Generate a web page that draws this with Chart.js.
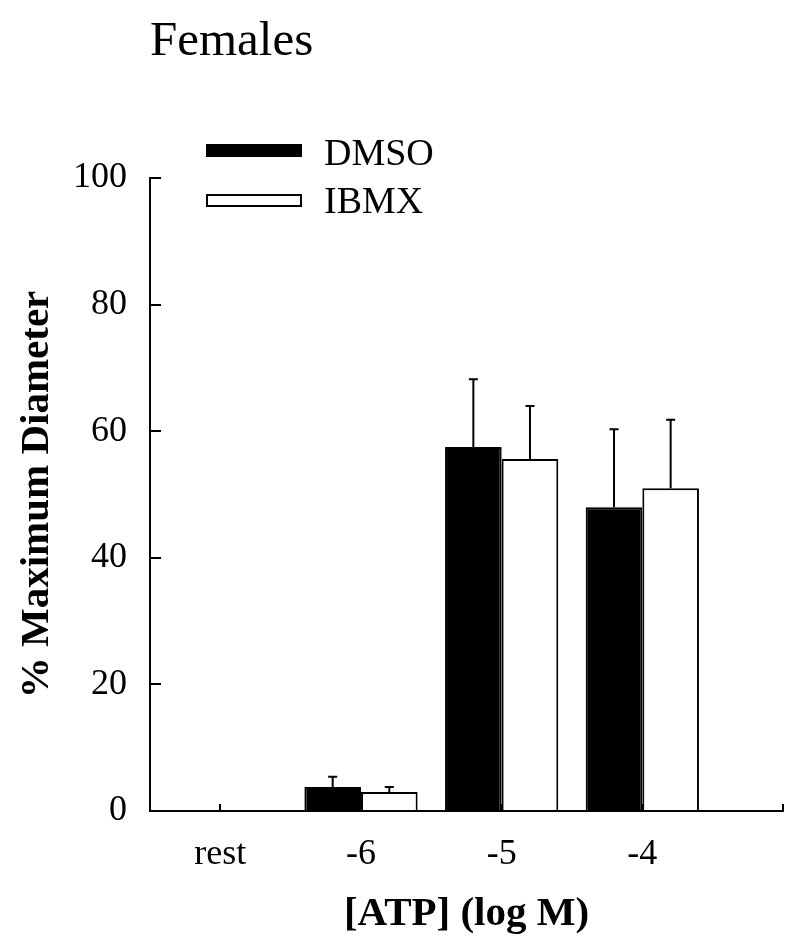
<!DOCTYPE html>
<html>
<head>
<meta charset="utf-8">
<script src="https://cdn.jsdelivr.net/npm/chart.js@4"></script>
<style>
  body { margin: 0; background: #fff; }
  #wrap { position: relative; width: 800px; height: 952px; font-family: "Liberation Serif", "Times New Roman", serif; }
  #chart { position: absolute; left: 0; top: 0; }
  .txt { position: absolute; line-height: 1; white-space: nowrap; color: #000; }
  .swatch { position: absolute; box-sizing: border-box; }
</style>
</head>
<body>
<div id="wrap">
  <canvas id="chart" width="800" height="952"></canvas>
  <div class="txt" id="title" style="left:150px; top:14px; font-size:49px;"></div>
  <div id="legend"></div>
</div>
<script>
// data
const categories = ['rest', '-6', '-5', '-4', ''];
const dmso = [0, 3.8, 57.5, 48.0];
const dmsoErr = [0, 1.6, 10.7, 12.3];
const ibmx = [0, 3.0, 55.6, 51.0];
const ibmxErr = [0, 0.8, 8.4, 10.8];
const yTicks = [0, 20, 40, 60, 80, 100];

const seriesNames = ['DMSO', 'IBMX'];
const chartTitle = 'Females';

document.getElementById('title').textContent = chartTitle;

// legend, drawn as html next to the plot
const legendColors = ['#000', '#fff'];
const legendEl = document.getElementById('legend');
seriesNames.forEach((name, i) => {
  const sw = document.createElement('div');
  sw.className = 'swatch';
  sw.style.cssText = 'left:206px;top:' + (144 + i * 50) + 'px;width:96px;height:13px;background:' + legendColors[i] + ';border:2px solid #000;';
  legendEl.appendChild(sw);
  const t = document.createElement('div');
  t.className = 'txt';
  t.style.cssText = 'left:324px;top:' + (133 + i * 48) + 'px;font-size:38px;';
  t.textContent = name;
  legendEl.appendChild(t);
});

const errors = [dmsoErr, ibmxErr];

const errorBars = {
  id: 'errorBars',
  afterDatasetsDraw(chart) {
    const ctx = chart.ctx;
    const y = chart.scales.y;
    ctx.save();
    ctx.strokeStyle = '#000';
    ctx.lineWidth = 2;
    chart.data.datasets.forEach((ds, di) => {
      const meta = chart.getDatasetMeta(di);
      meta.data.forEach((bar, i) => {
        const e = errors[di][i];
        if (!e) return;
        const top = y.getPixelForValue(ds.data[i].y + e);
        ctx.beginPath();
        ctx.moveTo(bar.x, bar.y);
        ctx.lineTo(bar.x, top);
        ctx.moveTo(bar.x - 4.5, top);
        ctx.lineTo(bar.x + 4.5, top);
        ctx.stroke();
      });
    });
    ctx.restore();
  }
};

const toPoints = arr => arr.map((v, i) => ({ x: i, y: v }));

new Chart(document.getElementById('chart'), {
  type: 'bar',
  data: {
    datasets: [
      { label: seriesNames[0], data: toPoints(dmso), backgroundColor: '#000', borderColor: '#000', borderWidth: 2 },
      { label: seriesNames[1], data: toPoints(ibmx), backgroundColor: '#fff', borderColor: '#000', borderWidth: 2 }
    ]
  },
  options: {
    responsive: false,
    animation: false,
    layout: { padding: { top: 178, right: 17, left: 0, bottom: 0 } },
    datasets: { bar: { categoryPercentage: 0.805, barPercentage: 1.0, borderSkipped: 'start' } },
    plugins: { legend: { display: false }, tooltip: { enabled: false }, title: { display: false } },
    scales: {
      x: {
        type: 'linear',
        offset: false,
        min: -0.5,
        max: 4,
        afterBuildTicks: s => { s.ticks = categories.map((c, i) => ({ value: i })); },
        afterFit: s => { s.height = 141; },
        grid: { display: true, offset: false, drawOnChartArea: false, drawTicks: true, tickLength: -7, color: '#000', lineWidth: 2 },
        border: { display: true, color: '#000', width: 2 },
        ticks: {
          padding: 15,
          color: '#000',
          font: { family: 'Liberation Serif', size: 36, lineHeight: 1.95 },
          callback: v => categories[v] ?? ''
        },
        title: {
          display: true,
          text: '[ATP] (log M)',
          color: '#000',
          font: { family: 'Liberation Serif', size: 41, weight: 'bold' },
          padding: { top: 0, bottom: 13 }
        }
      },
      y: {
        min: 0,
        max: 100,
        afterBuildTicks: s => { s.ticks = yTicks.map(v => ({ value: v })); },
        afterFit: s => { s.width = 150; },
        grid: { display: true, drawOnChartArea: false, drawTicks: true, tickLength: -11, color: '#000', lineWidth: 2 },
        border: { display: true, color: '#000', width: 2 },
        ticks: {
          padding: 34,
          color: '#000',
          font: { family: 'Liberation Serif', size: 36 }
        },
        title: {
          display: true,
          text: '% Maximum Diameter',
          color: '#000',
          font: { family: 'Liberation Serif', size: 41, weight: 'bold' },
          padding: { top: 13, bottom: 0 }
        }
      }
    }
  },
  plugins: [errorBars]
});
</script>
</body>
</html>
